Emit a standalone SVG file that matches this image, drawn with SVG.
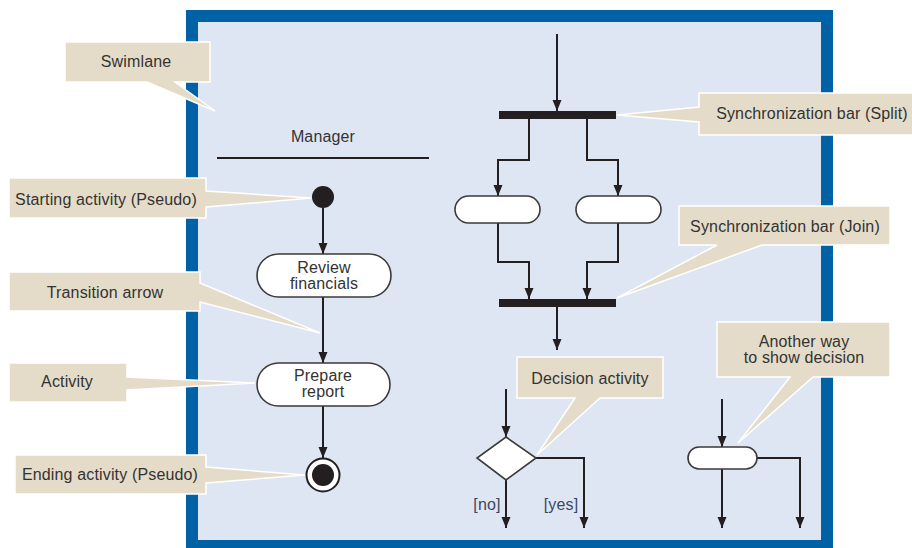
<svg xmlns="http://www.w3.org/2000/svg" width="912" height="548" viewBox="0 0 912 548">
  <style>
    text { font-family: "Liberation Sans", Arial, sans-serif; font-size: 16px; fill: #333; letter-spacing: 0.15px; }
    .mid { text-anchor: middle; }
    .callout { fill: #E4DCC8; stroke: #ffffff; stroke-width: 1.5; stroke-linejoin: miter; }
    .flow { fill: none; stroke: #231F20; stroke-width: 2; marker-end: url(#arrow); }
    .node { fill: #ffffff; stroke: #3a3a3a; stroke-width: 1.6; }
    .bar { fill: #231F20; }
    .guard { fill: #3b4660; }
  </style>
  <defs>
    <marker id="arrow" markerUnits="userSpaceOnUse" markerWidth="12" markerHeight="12" viewBox="0 0 12 12" refX="11" refY="6" orient="auto">
      <path d="M0,1.5 L11,6 L0,10.5 Z" fill="#231F20"/>
    </marker>
  </defs>

  <!-- swimlane frame -->
  <rect id="frame" x="192" y="16" width="635" height="530" fill="#DFE6F3" stroke="#0061A5" stroke-width="12"/>

  <!-- lane header -->
  <g id="lane-manager">
    <text class="mid" x="323" y="142">Manager</text>
    <line x1="217" y1="158" x2="429" y2="158" stroke="#231F20" stroke-width="2"/>
  </g>

  <!-- connectors -->
  <g id="connectors">
    <line class="flow" x1="323" y1="208" x2="323" y2="254"/>
    <line class="flow" x1="323" y1="297" x2="323" y2="363"/>
    <line class="flow" x1="323" y1="406" x2="323" y2="458"/>
    <line class="flow" x1="557" y1="34" x2="557" y2="111"/>
    <path class="flow" d="M529,119 V160 H498 V196"/>
    <path class="flow" d="M587,119 V160 H618 V196"/>
    <path class="flow" d="M498,223 V262 H529 V299"/>
    <path class="flow" d="M618,223 V262 H587 V299"/>
    <line class="flow" x1="557" y1="307" x2="557" y2="350"/>
    <line class="flow" x1="506" y1="389" x2="506" y2="437"/>
    <line class="flow" x1="506" y1="480" x2="506" y2="528"/>
    <path class="flow" d="M536,458 H584 V528"/>
    <line class="flow" x1="722" y1="399" x2="722" y2="447"/>
    <line class="flow" x1="722" y1="469" x2="722" y2="528"/>
    <path class="flow" d="M757,458 H800 V528"/>
  </g>

  <!-- nodes -->
  <g id="start">
    <circle cx="323" cy="197" r="11" fill="#231F20"/>
  </g>
  <g id="review-financials">
    <rect class="node" x="257" y="254" width="134" height="43" rx="21.5"/>
    <text class="mid" x="324" y="273">Review</text>
    <text class="mid" x="324" y="289">financials</text>
  </g>
  <g id="prepare-report">
    <rect class="node" x="257" y="363" width="133" height="43" rx="21.5"/>
    <text class="mid" x="323" y="381">Prepare</text>
    <text class="mid" x="323" y="397">report</text>
  </g>
  <g id="end">
    <circle cx="323" cy="475" r="16.5" fill="#ffffff" stroke="#231F20" stroke-width="2"/>
    <circle cx="323" cy="475" r="11" fill="#231F20"/>
  </g>
  <g id="split-bar">
    <rect class="bar" x="499" y="111" width="117" height="8"/>
  </g>
  <g id="task-left">
    <rect class="node" x="455" y="196" width="85" height="27" rx="13.5"/>
  </g>
  <g id="task-right">
    <rect class="node" x="576" y="196" width="85" height="27" rx="13.5"/>
  </g>
  <g id="join-bar">
    <rect class="bar" x="499" y="299" width="117" height="8"/>
  </g>
  <g id="decision">
    <polygon class="node" points="506,437 536,458 506,480 477,458"/>
    <text class="guard mid" x="487" y="510">[no]</text>
    <text class="guard mid" x="561" y="510">[yes]</text>
  </g>
  <g id="decision-alt">
    <rect class="node" x="688" y="447" width="69" height="22" rx="11"/>
  </g>

  <!-- callouts -->
  <g id="callout-swimlane">
    <path class="callout" d="M65,42 H210 V82 H175 L215,111 L147,82 H65 Z"/>
    <text class="mid" x="136" y="67">Swimlane</text>
  </g>
  <g id="callout-start">
    <path class="callout" d="M9,178 H206 V191 L311,198 L206,207 V218 H9 Z"/>
    <text class="mid" x="106" y="205">Starting activity (Pseudo)</text>
  </g>
  <g id="callout-transition">
    <path class="callout" d="M9,272 H200 V283 L320,333 L200,302 V311 H9 Z"/>
    <text class="mid" x="105" y="298">Transition arrow</text>
  </g>
  <g id="callout-activity">
    <path class="callout" d="M9,363 H127 V377 L255,383 L127,390 V402 H9 Z"/>
    <text class="mid" x="67" y="387">Activity</text>
  </g>
  <g id="callout-end">
    <path class="callout" d="M15,455 H206 V467 L305,475 L206,483 V494 H15 Z"/>
    <text class="mid" x="110" y="480">Ending activity (Pseudo)</text>
  </g>
  <g id="callout-split">
    <path class="callout" d="M699,93 H914 V135 H699 V122 L617,115 L699,107 Z"/>
    <text class="mid" x="812" y="119">Synchronization bar (Split)</text>
  </g>
  <g id="callout-join">
    <path class="callout" d="M679,206 H890 V245 H762 L617,298 L717,245 H679 Z"/>
    <text class="mid" x="785" y="232">Synchronization bar (Join)</text>
  </g>
  <g id="callout-decision">
    <path class="callout" d="M517,357 H663 V398 H600 L537,455 L575,398 H517 Z"/>
    <text class="mid" x="590" y="384">Decision activity</text>
  </g>
  <g id="callout-decision-alt">
    <path class="callout" d="M717,322 H890 V377 H813 L738,443 L790,377 H717 Z"/>
    <text class="mid" x="804" y="347">Another way</text>
    <text class="mid" x="804" y="363">to show decision</text>
  </g>
</svg>
